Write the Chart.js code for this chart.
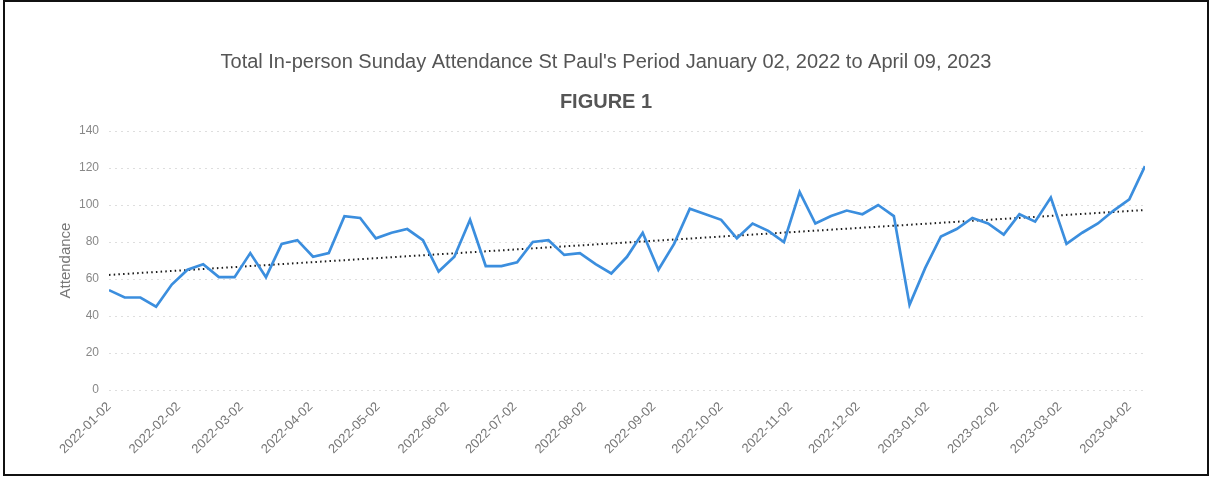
<!DOCTYPE html>
<html>
<head>
<meta charset="utf-8">
<title>St Paul's Sunday Attendance</title>
<script src="https://cdn.jsdelivr.net/npm/chart.js@4.4.0/dist/chart.umd.min.js"></script>
<style>
    html, body { margin: 0; padding: 0; background: #fff; }
    body { width: 1212px; height: 477px; position: relative; overflow: hidden; }
    #frame { position: absolute; left: 3px; top: 0; width: 1202px; height: 472px; border: 2px solid #111; }
    #wrap { position: absolute; left: 0; top: 0; width: 1212px; height: 477px; }
</style>
</head>
<body>
<div id="frame"></div>
<div id="wrap"><canvas id="attendanceChart" width="1212" height="477"></canvas></div>
<script>
// Ngày bắt đầu và các Chủ nhật (mỗi tuần một điểm)
const startDate = '2022-01-02';
const weekCount = 67;

// Số người tham dự mỗi Chủ nhật
const attendance = [
    54, 50, 50, 45, 57, 65, 68, 61, 61, 74,
    61, 79, 81, 72, 74, 94, 93, 82, 85, 87,
    81, 64, 72, 92, 67, 67, 69, 80, 81, 73,
    74, 68, 63, 72, 85, 65, 79, 98, 95, 92,
    82, 90, 86, 80, 107, 90, 94, 97, 95, 100,
    94, 46, 66, 83, 87, 93, 90, 84, 95, 91,
    104, 79, 85, 90, 97, 103, 121
];

// Đường xu hướng: giá trị đầu và cuối
const trendValues = [62.2, 97.3];

// Nhãn trục x (mỗi tháng)
const tickLabels = [
    '2022-01-02', '2022-02-02', '2022-03-02', '2022-04-02', '2022-05-02', '2022-06-02',
    '2022-07-02', '2022-08-02', '2022-09-02', '2022-10-02', '2022-11-02', '2022-12-02',
    '2023-01-02', '2023-02-02', '2023-03-02', '2023-04-02'
];

// Nhãn trục y
const yTicks = [0, 20, 40, 60, 80, 100, 120, 140];

const fontFamily = '"Liberation Sans", Arial, Helvetica, sans-serif';

function dayOffset(dateStr) {
    return Math.round((Date.parse(dateStr) - Date.parse(startDate)) / 86400000);
}

document.addEventListener('DOMContentLoaded', function() {
    const linePoints = attendance.map((v, i) => ({ x: i * 7, y: v }));
    const lastDay = (weekCount - 1) * 7;
    const trendPoints = [
        { x: 0, y: trendValues[0] },
        { x: lastDay, y: trendValues[1] }
    ];
    const tickDays = tickLabels.map(dayOffset);

    new Chart(document.getElementById('attendanceChart'), {
        type: 'line',
        data: {
            datasets: [{
                label: 'Attendance',
                data: linePoints,
                borderColor: '#3b8ede',
                borderWidth: 2.7,
                pointRadius: 0,
                tension: 0,
                fill: false
            }, {
                label: 'Trend',
                data: trendPoints,
                borderColor: '#1a1a1a',
                borderWidth: 2,
                borderDash: [1.5, 3.2],
                pointRadius: 0,
                fill: false
            }]
        },
        options: {
            responsive: false,
            animation: false,
            layout: { padding: 0 },
            plugins: {
                legend: { display: false },
                tooltip: { enabled: false },
                title: {
                    display: true,
                    text: "Total In-person Sunday Attendance St Paul's Period January 02, 2022 to April 09, 2023",
                    color: '#555',
                    font: { family: fontFamily, size: 20, weight: 'normal' },
                    padding: { top: 50, bottom: 16 }
                },
                subtitle: {
                    display: true,
                    text: 'FIGURE 1',
                    color: '#555',
                    font: { family: fontFamily, size: 20, weight: 'bold' },
                    padding: { top: 0, bottom: 17 }
                }
            },
            scales: {
                x: {
                    type: 'linear',
                    min: 0,
                    max: lastDay,
                    border: { display: false },
                    grid: { display: false },
                    afterBuildTicks: function(scale) {
                        scale.ticks = tickDays.map(d => ({ value: d }));
                    },
                    afterFit: function(scale) {
                        scale.height = 87;
                    },
                    ticks: {
                        autoSkip: false,
                        minRotation: 45,
                        maxRotation: 45,
                        padding: 1,
                        color: '#777',
                        font: { family: fontFamily, size: 13 },
                        callback: function(value, index) {
                            return tickLabels[index];
                        }
                    }
                },
                y: {
                    min: 0,
                    max: 140,
                    border: { display: false, dash: [2, 4] },
                    afterBuildTicks: function(scale) {
                        scale.ticks = yTicks.map(v => ({ value: v }));
                    },
                    afterFit: function(scale) {
                        scale.width = 109;
                    },
                    grid: {
                        color: 'rgba(0,0,0,0.13)',
                        drawTicks: false
                    },
                    ticks: {
                        padding: 10,
                        color: '#888',
                        font: { family: fontFamily, size: 12 }
                    },
                    title: {
                        display: true,
                        text: 'Attendance',
                        color: '#777',
                        font: { family: fontFamily, size: 15 },
                        padding: { top: 57, bottom: 0 }
                    }
                },
                // Trục phải ẩn, chỉ để giữ khoảng trống bên phải
                yRight: {
                    position: 'right',
                    min: 0,
                    max: 140,
                    border: { display: false },
                    grid: { display: false, drawOnChartArea: false },
                    ticks: { display: false },
                    afterFit: function(scale) {
                        scale.width = 67;
                    }
                }
            }
        }
    });
});
</script>
</body>
</html>
